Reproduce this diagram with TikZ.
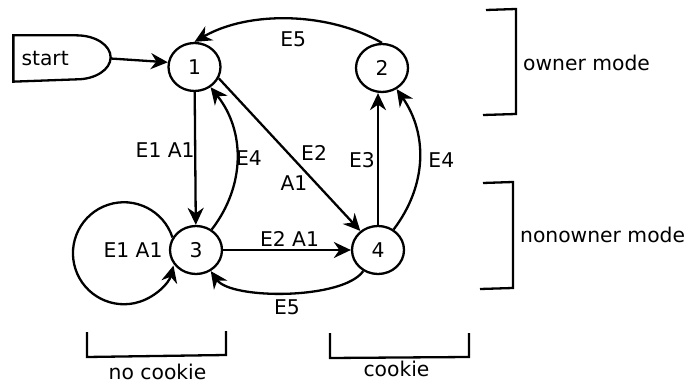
\documentclass[tikz,border=0pt]{standalone}
\usepackage{fontspec}
\setmainfont{DejaVu Sans}
\usetikzlibrary{arrows.meta,shapes.geometric}
\begin{document}
\begin{tikzpicture}[x=1pt,y=1pt,line width=2.3pt,
  every node/.style={font=\fontsize{20.3}{24}\selectfont},
  state/.style={ellipse,draw,minimum width=52pt,minimum height=48pt,inner sep=0pt},
  arr/.style={-{Stealth[length=17pt,width=16pt,inset=5.5pt]}},
  lbl/.style={inner sep=0pt},
  bracket/.style={line width=2.3pt,line join=miter}]
\useasboundingbox (0,0) rectangle (688,383);

% states
\node[state] (n1) at (194.5,316) {1};
\node[state] (n2) at (382,315) {2};
\node[state] (n3) at (196,133) {3};
\node[state] (n4) at (378,133) {4};

% start terminal: flat left side, rounded right side
\node[minimum width=95pt,minimum height=44pt,inner sep=0pt] (start) at (62,324.5) {};
\draw (start.north west) -- ([xshift=-34pt]start.north east)
  arc[start angle=90,end angle=-90,x radius=34pt,y radius=22pt]
  -- (start.south west) -- cycle;
\node[lbl,anchor=west] (starttext) at ([xshift=7pt]start.west) {start};

% transitions
\draw[arr] (start.east) -- (n1.170);
\draw[arr] (n2.north) to[out=150,in=30,looseness=0.85]
  node[lbl,pos=0.5,xshift=5pt,yshift=-20pt] (e5top) {E5} (n1.north);
\draw[arr] (n1) -- node[lbl,pos=0.44,xshift=-30pt] (e1a1) {E1 A1} (n3);
\draw[arr] (n3) to[bend right=38]
  node[lbl,pos=0.5,xshift=12pt] (e4left) {E4} (n1);
\draw[arr] (n1.-25) -- node[lbl,pos=0.49,xshift=26pt] (e2diag) {E2}
  node[lbl,pos=0.687,xshift=-22pt] (a1diag) {A1} (n4);
\draw[arr] (n4) -- node[lbl,pos=0.49,xshift=-16pt] (e3) {E3} (n4 |- n2.south);
\draw[arr] (n4) to[bend right=36]
  node[lbl,pos=0.5,xshift=22pt] (e4right) {E4} (n2);
\draw[arr] (n3) -- node[lbl,pos=0.52,yshift=11pt] (e2a1) {E2 A1} (n4);
\draw[arr] (n4) to[out=235,in=-55,looseness=0.59]
  node[lbl,pos=0.5,yshift=-15pt] (e5bot) {E5} (n3);
\draw[arr] (n3.152) arc[start angle=18,end angle=346,radius=51pt];
\node[lbl] (loopl) at (133,133) {E1 A1};

% mode brackets
\draw[bracket] (486,373) -- (516,374) -- (516,269) -- (483,268);
\node[lbl,anchor=west] (owner) at (522,320) {owner mode};
\draw[bracket] (483,200) -- (513,201) -- (513,95) -- (480,94);
\node[lbl,anchor=west] (nonowner) at (519,148) {nonowner mode};

% cookie brackets
\draw[bracket] (87,51) -- (87,26) -- (226,28) -- (226,52);
\node[lbl] (nocookie) at (157.5,11) {no cookie};
\draw[bracket] (330,50) -- (330,25) -- (469,26) -- (469,50);
\node[lbl] (cookie) at (396.5,14) {cookie};
\end{tikzpicture}
\end{document}
